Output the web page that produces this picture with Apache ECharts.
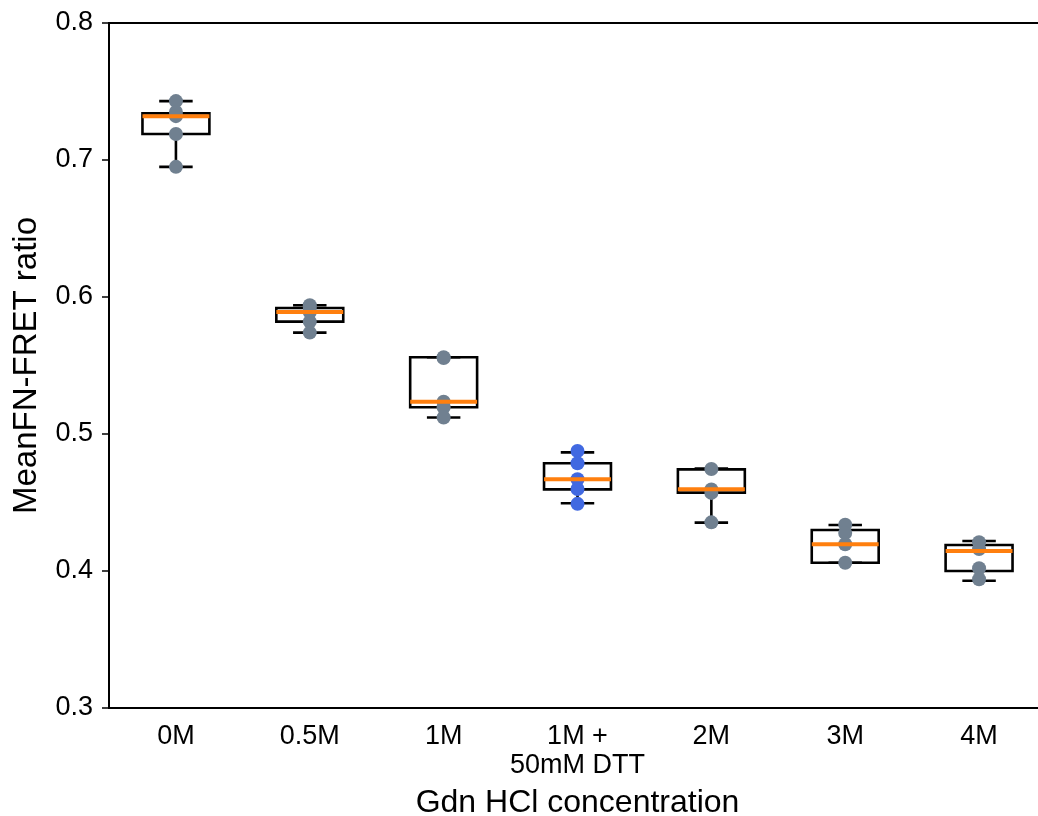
<!DOCTYPE html>
<html>
<head>
<meta charset="utf-8">
<script src="https://cdn.jsdelivr.net/npm/echarts@6/dist/echarts.min.js"></script>
<style>
html,body{margin:0;padding:0;background:#fff;}
#chart{width:1038px;height:816px;}
</style>
</head>
<body>
<div id="chart"></div>
<script>
// Categories
const categories = ['0M', '0.5M', '1M', '1M +\n50mM DTT', '2M', '3M', '4M'];
// Box statistics: [lower whisker, Q1, median, Q3, upper whisker]
const boxStats = [
  [0.695, 0.719, 0.732, 0.734, 0.743],
  [0.574, 0.582, 0.589, 0.592, 0.594],
  [0.512, 0.5195, 0.5236, 0.556, 0.556],
  [0.4494, 0.4596, 0.4669, 0.4786, 0.4866],
  [0.4353, 0.4572, 0.4596, 0.4742, 0.4747],
  [0.406, 0.406, 0.4195, 0.4299, 0.4336],
  [0.3929, 0.400, 0.4146, 0.419, 0.4219]
];
// Individual points per category
const points0M = [0.743, 0.735, 0.732, 0.719, 0.695];
const points05M = [0.594, 0.592, 0.589, 0.582, 0.574];
const points1M = [0.556, 0.5555, 0.5235, 0.5195, 0.512];
const points1MDTT = [0.4876, 0.4786, 0.467, 0.4598, 0.449];
const points2M = [0.4745, 0.4595, 0.457, 0.4355];
const points3M = [0.4338, 0.4277, 0.4195, 0.406];
const points4M = [0.421, 0.416, 0.402, 0.394];
const pointGroups = [points0M, points05M, points1M, points1MDTT, points2M, points3M, points4M];
const yTicks = [0.3, 0.4, 0.5, 0.6, 0.7, 0.8];

const FONT = "'Liberation Sans', Arial, Helvetica, sans-serif";

const grayPts = [], bluePts = [];
pointGroups.forEach((g, i) => g.forEach(v => (i === 3 ? bluePts : grayPts).push([i, v])));

const boxData = boxStats.map((s, i) => [i].concat(s));

function renderBox(params, api) {
  const x = api.value(0);
  const band = api.size([1, 0])[0];
  const bw = band * 0.5, cw = band * 0.25;
  const pMin = api.coord([x, api.value(1)]);
  const pQ1 = api.coord([x, api.value(2)]);
  const pQ3 = api.coord([x, api.value(4)]);
  const pMax = api.coord([x, api.value(5)]);
  const cx = pQ1[0];
  const st = {stroke: '#000', lineWidth: 2.6, fill: null};
  const children = [
    {type: 'rect', shape: {x: cx - bw / 2, y: pQ3[1], width: bw, height: pQ1[1] - pQ3[1]}, style: {stroke: '#000', lineWidth: 2.6, fill: 'none'}},
    {type: 'line', shape: {x1: cx, y1: pQ3[1], x2: cx, y2: pMax[1]}, style: st},
    {type: 'line', shape: {x1: cx, y1: pQ1[1], x2: cx, y2: pMin[1]}, style: st},
    {type: 'line', shape: {x1: cx - cw / 2, y1: pMax[1], x2: cx + cw / 2, y2: pMax[1]}, style: st},
    {type: 'line', shape: {x1: cx - cw / 2, y1: pMin[1], x2: cx + cw / 2, y2: pMin[1]}, style: st}
  ];
  return {type: 'group', children: children};
}

function renderMedian(params, api) {
  const x = api.value(0);
  const band = api.size([1, 0])[0];
  const bw = band * 0.5;
  const p = api.coord([x, api.value(3)]);
  return {type: 'line', shape: {x1: p[0] - bw / 2, y1: p[1], x2: p[0] + bw / 2, y2: p[1]}, style: {stroke: '#ff7f0e', lineWidth: 4}};
}

const chart = echarts.init(document.getElementById('chart'), null, {renderer: 'canvas'});
chart.setOption({
  backgroundColor: '#fff',
  animation: false,
  grid: {left: 109, top: 23, width: 937, height: 685, show: true, borderColor: '#000', borderWidth: 2, backgroundColor: 'transparent', containLabel: false, outerBoundsMode: 'none'},
  xAxis: {
    type: 'category',
    data: categories,
    boundaryGap: true,
    axisLine: {lineStyle: {color: '#000', width: 2}},
    axisTick: {alignWithLabel: true, length: 7, lineStyle: {color: '#000', width: 1.5}},
    axisLabel: {color: '#000', fontSize: 27, fontFamily: FONT, margin: 14, lineHeight: 29, interval: 0},
    name: 'Gdn HCl concentration',
    nameLocation: 'middle',
    nameGap: 79,
    nameTextStyle: {color: '#000', fontSize: 32, fontFamily: FONT}
  },
  yAxis: {
    type: 'value',
    min: 0.3, max: 0.8, interval: 0.1,
    axisLine: {show: true, lineStyle: {color: '#000', width: 2}},
    axisTick: {show: true, length: 7, lineStyle: {color: '#000', width: 1.5}},
    splitLine: {show: false},
    axisLabel: {color: '#000', fontSize: 27, fontFamily: FONT, margin: 16, formatter: v => v.toFixed(1)},
    name: 'MeanFN-FRET ratio',
    nameLocation: 'middle',
    nameGap: 66,
    nameTextStyle: {color: '#000', fontSize: 33, fontFamily: FONT}
  },
  series: [
    {type: 'custom', renderItem: renderBox, data: boxData, encode: {x: 0, y: [1, 2, 3, 4, 5]}, z: 2, silent: true},
    {type: 'scatter', data: grayPts, symbolSize: 14, itemStyle: {color: '#708090', opacity: 1}, z: 3},
    {type: 'scatter', data: bluePts, symbolSize: 14, itemStyle: {color: '#4169e1', opacity: 1}, z: 3},
    {type: 'custom', renderItem: renderMedian, data: boxData, encode: {x: 0, y: 3}, z: 4, silent: true}
  ]
});
</script>
</body>
</html>
